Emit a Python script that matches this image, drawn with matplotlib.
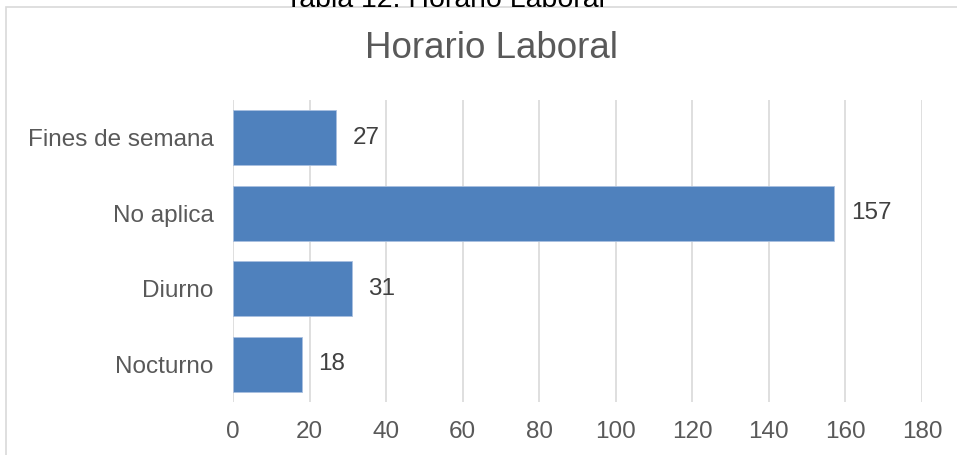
import matplotlib.pyplot as plt
from matplotlib.patches import Rectangle

# datos
categorias = ['Nocturno', 'Diurno', 'No aplica', 'Fines de semana']
valores = [18, 31, 157, 27]
ticks_x = [0, 20, 40, 60, 80, 100, 120, 140, 160, 180]

plt.rcParams['font.family'] = ['Liberation Sans', 'DejaVu Sans']
texto = '#595959'

fig = plt.figure(figsize=(9.57, 4.55), dpi=100)
W, H = 957, 455

# marco del gráfico (cortado a la derecha y abajo)
fig.patches.append(Rectangle((6 / W, -0.1), 1.2, 1 - 7 / H + 0.1,
                             transform=fig.transFigure, fill=False,
                             edgecolor='#D9D9D9', linewidth=1.2))

# título de la tabla, cortado arriba
fig.text(445 / W, 1 - 7 / H, 'Tabla 12. Horario Laboral', ha='center', va='baseline',
         fontsize=20.5, color='black')

ax = fig.add_axes([233 / W, 1 - 402 / H, (922 - 233) / W, (402 - 100) / H])
barras = ax.barh(categorias, valores, height=0.733, color='#4F81BD',
                 edgecolor='#A9C0E0', linewidth=0.6, zorder=3)
ax.bar_label(barras, padding=12, fontsize=17.5, color='#404040')

ax.set_xlim(0, 180)
ax.set_ylim(-0.5, 3.5)
ax.set_xticks(ticks_x)
ax.grid(axis='x', color='#D9D9D9', linewidth=1.2, zorder=0)
ax.tick_params(axis='both', length=0, labelsize=17.5, labelcolor=texto)
ax.tick_params(axis='x', pad=14)
ax.tick_params(axis='y', pad=14)
for s in ax.spines.values():
    s.set_visible(False)

fig.text(491 / W, 1 - 49 / H, 'Horario Laboral', ha='center', va='center',
         fontsize=26.5, color=texto)

fig.savefig('out.png', dpi=100)
